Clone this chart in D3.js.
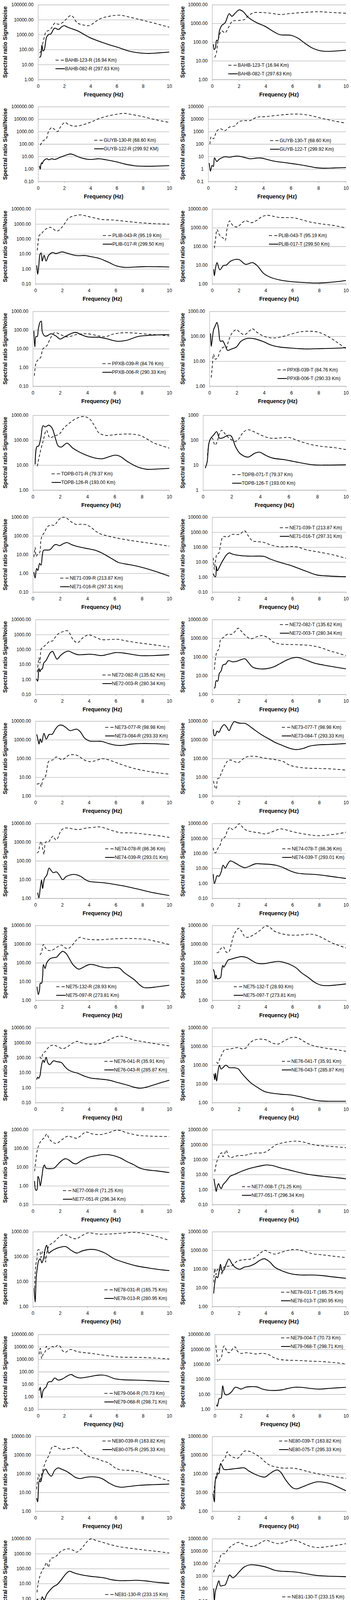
<!DOCTYPE html>
<html>
<head>
<meta charset="utf-8">
<script src="https://cdn.jsdelivr.net/npm/d3@7"></script>
<style>
  body { margin: 0; background: #fff; }
  text { font-family: "Liberation Sans", Arial, sans-serif; fill: #000; }
</style>
</head>
<body>
<svg id="chart" width="898" height="4998"></svg>
<script>
// each series: [frequency Hz, spectral ratio]
const bahbR_near = [[0.1,60],[0.2,70],[0.3,150],[0.4,350],[0.5,800],[0.6,1500],[0.75,1800],[0.9,2000],[1.1,3500],[1.3,6000],[1.5,5000],[1.7,5200],[2.0,8000],[2.2,12000],[2.5,19000],[2.65,16000],[3.0,6000],[3.4,4500],[3.9,4000],[4.3,6500],[4.7,11000],[5.3,16000],[6.2,20000],[6.8,16000],[7.4,12000],[8.0,9000],[8.8,6000],[10,3100]];
const bahbR_far = [[0.1,30],[0.2,35],[0.3,200],[0.38,80],[0.48,100],[0.65,660],[0.83,1050],[0.97,1100],[1.27,2700],[1.56,2200],[1.8,3300],[2.0,4000],[2.2,3300],[2.5,2600],[3.0,1800],[3.45,1100],[3.9,660],[4.5,400],[5.35,220],[6.2,130],[6.9,80],[7.4,65],[8.1,56],[8.5,55],[9.2,60],[10,68]];
const bahbT_near = [[0.2,15],[0.32,26],[0.43,100],[0.55,230],[0.72,400],[0.97,310],[1.23,610],[1.48,1250],[1.65,1400],[2.08,1450],[2.42,1600],[2.67,2400],[3.1,3700],[3.7,3800],[4.38,3500],[5.06,3000],[5.9,3400],[6.76,3800],[7.96,4200],[8.98,3800],[10,3500]];
const bahbT_far = [[0.1,77],[0.15,40],[0.25,50],[0.34,125],[0.43,120],[0.55,400],[0.72,770],[0.97,1070],[1.28,3300],[1.48,2400],[1.74,3600],[2.03,5300],[2.33,4200],[2.67,2200],[3.27,1150],[3.95,700],[4.63,350],[5.06,250],[5.9,230],[6.4,165],[6.93,87],[7.44,50],[7.96,36],[8.47,32],[9.15,33],[10,37]];
const guybR_near = [[0.17,80],[0.4,190],[0.62,250],[0.8,1000],[1.04,2100],[1.27,1450],[1.49,1000],[1.74,2600],[2.05,5400],[2.3,3800],[2.65,2800],[3.1,2900],[3.96,5400],[4.65,11000],[5.35,18000],[6.04,25000],[6.56,29000],[7.08,24000],[7.95,16000],[9.0,8700],[10,5400]];
const guybR_far = [[0.1,1.75],[0.17,0.97],[0.22,2.2],[0.28,3.2],[0.33,2.6],[0.4,4.1],[0.66,6.6],[0.83,5.5],[1.04,6.6],[1.27,5.8],[1.7,8.7],[2.05,12],[2.48,16],[2.74,13.5],[3.18,8.5],[3.96,5.8],[4.65,6.6],[5.17,5.5],[6.04,3.6],[6.6,2.5],[7.4,1.8],[8.2,1.65],[9.0,1.7],[10,1.85]];
const guybT_near = [[0.13,100],[0.22,380],[0.38,260],[0.63,1100],[0.88,1700],[1.21,1170],[1.54,2300],[1.96,2900],[2.2,6000],[2.54,7600],[3.03,7600],[3.53,14000],[4.2,16000],[5.19,21000],[6.02,25000],[6.68,25000],[7.35,20000],[8.18,12000],[9.0,7600],[10,4700]];
const guybT_far = [[0.08,3.0],[0.17,0.68],[0.28,1.9],[0.38,1.6],[0.46,7.8],[0.63,4],[0.8,6],[1.21,9.6],[1.54,8.8],[1.96,10.7],[2.2,10.7],[2.54,9],[3.03,6.6],[3.53,7.5],[3.86,7.5],[4.36,5.5],[4.86,4.1],[5.52,3.3],[6.19,2.6],[7.0,1.9],[7.84,1.26],[8.34,1.15],[9.17,1.22],[10,1.3]];
const plibR_near = [[0.14,17],[0.2,55],[0.3,180],[0.43,200],[0.6,330],[0.85,500],[1.1,600],[1.28,500],[1.62,330],[1.9,500],[2.2,1100],[2.47,2400],[2.9,3500],[3.4,4000],[3.9,3200],[4.42,2500],[4.93,2000],[5.95,1800],[7.0,1400],[7.82,1200],[8.84,1050],[10,960]];
const plibR_far = [[0.1,1.7],[0.17,0.43],[0.25,1.5],[0.34,9],[0.43,11.5],[0.51,3.3],[0.65,8],[0.8,3.3],[0.99,8],[1.28,12.2],[1.53,10.5],[2.0,13.5],[2.38,11],[3.06,7.7],[3.74,7.7],[4.08,6.7],[4.76,5],[5.44,2.8],[6.04,1.6],[6.63,1.26],[7.48,1.33],[8.16,1.4],[9.18,1.38],[10,1.33]];
const plibT_near = [[0.17,80],[0.26,245],[0.37,800],[0.49,510],[0.63,340],[0.8,290],[0.97,210],[1.14,1050],[1.31,2300],[1.57,1260],[1.91,1100],[2.16,1600],[2.5,2350],[2.93,1850],[3.36,2500],[3.7,3800],[4.12,4600],[4.55,4100],[5.06,3500],[6.08,3400],[6.59,2800],[7.27,2050],[8.13,1600],[8.98,1350],[10,970]];
const plibT_far = [[0.12,6],[0.17,2.7],[0.26,7],[0.37,13.5],[0.58,5.6],[0.85,9.5],[1.06,10],[1.4,16.5],[1.99,20],[2.5,11],[3.02,13.5],[3.36,9.5],[3.87,3.5],[4.38,2.2],[5.06,1.6],[5.91,1.3],[6.93,1.17],[7.6,1.1],[8.47,1.15],[9.49,1.33],[10,1.5]];
const ppxbR_near = [[0.12,0.36],[0.23,1.65],[0.37,2.5],[0.57,3.4],[0.73,9.5],[0.87,12],[1.03,14.5],[1.28,35],[1.53,68],[1.7,72],[2.03,57],[2.53,43],[3.2,57],[4.03,63],[4.87,48],[5.37,45],[5.87,60],[6.7,72],[7.53,68],[8.37,60],[9.2,55],[10,48]];
const ppxbR_far = [[0.08,90],[0.15,12.4],[0.23,45],[0.33,45],[0.4,110],[0.53,260],[0.62,300],[0.7,78],[0.87,48],[1.03,48],[1.33,63],[1.7,48],[2.0,33],[2.37,45],[3.12,75],[3.53,57],[4.03,43],[4.87,41],[5.37,35],[6.2,25],[6.87,28],[7.7,45],[8.37,51],[9.2,55],[10,57]];
const ppxbT_near = [[0.13,2.2],[0.22,8],[0.3,19],[0.43,12],[0.6,14],[0.8,27],[1.05,37],[1.22,33],[1.39,63],[1.64,130],[1.97,185],[2.22,145],[2.56,115],[2.98,175],[3.14,200],[3.48,145],[3.98,100],[4.48,87],[4.98,88],[5.65,107],[6.49,145],[7.32,160],[7.99,145],[8.66,100],[9.33,58],[10,32]];
const ppxbT_far = [[0.08,130],[0.13,39],[0.22,90],[0.3,180],[0.38,230],[0.47,300],[0.55,360],[0.67,190],[0.8,63],[0.97,65],[1.14,44],[1.34,27],[1.56,30],[1.97,37],[2.31,63],[2.81,83],[3.31,79],[3.98,60],[4.48,45],[5.15,37],[6.15,33],[6.99,31],[8.16,32],[9.16,33],[10,35]];
const topbR_near = [[0.33,9],[0.5,26],[0.75,89],[1.0,250],[1.25,125],[1.59,150],[1.92,170],[2.26,300],[2.68,480],[3.18,740],[3.76,890],[4.18,700],[4.52,380],[4.85,195],[5.35,155],[6.19,170],[7.19,175],[7.86,155],[8.36,112],[8.86,78],[9.53,58],[10,48]];
const topbR_far = [[0.17,10.7],[0.3,55],[0.42,58],[0.59,125],[0.75,380],[0.92,340],[1.17,400],[1.42,300],[1.67,112],[1.87,58],[2.09,53],[2.51,76],[2.93,48],[3.34,35],[3.85,26],[4.52,19.5],[5.1,18],[5.52,21],[6.02,25],[6.35,23],[7.02,13],[7.69,8.4],[8.36,6.8],[9.2,7],[10,7.4]];
const topbT_near = [[0.32,24],[0.45,89],[0.6,125],[0.68,115],[0.84,63],[1.0,89],[1.16,185],[1.32,250],[1.56,175],[1.88,115],[2.28,89],[2.52,115],[2.83,210],[3.15,260],[3.63,210],[4.11,155],[4.75,120],[5.54,125],[6.02,128],[6.66,95],[7.45,69],[8.25,57],[9.2,50],[10,42]];
const topbT_far = [[0.16,7.6],[0.29,13],[0.41,71],[0.53,115],[0.76,165],[0.96,220],[1.16,120],[1.4,125],[1.72,155],[1.96,150],[2.28,55],[2.6,29],[3.15,21],[3.63,30],[3.95,33],[4.43,24],[4.9,19],[5.7,16.5],[6.34,14],[7.13,11.5],[7.77,10.2],[8.57,10],[10,10.3]];
const ne71R_near = [[0.08,7.3],[0.17,24],[0.25,8],[0.37,11],[0.5,12.6],[0.59,54],[0.67,95],[0.84,150],[1.09,315],[1.34,380],[1.59,370],[1.84,650],[2.09,940],[2.26,1000],[2.51,850],[2.84,550],[3.18,410],[3.51,420],[3.93,390],[4.26,290],[4.6,180],[4.93,130],[5.35,105],[6.02,81],[6.86,62],[7.86,48],[8.86,38],[10,28]];
const ne71R_far = [[0.08,1.15],[0.17,0.56],[0.28,1.8],[0.37,1.4],[0.5,3.4],[0.6,2.7],[0.7,9.4],[0.79,17],[1.0,17.5],[1.25,18],[1.59,33],[1.76,34],[1.97,30],[2.26,39],[2.51,44],[2.84,34],[3.18,28],[3.85,22],[4.52,17.5],[5.02,12.6],[5.35,9.3],[5.85,5.7],[6.27,3.8],[6.86,3.1],[7.53,2.5],[8.19,1.9],[9.03,1.23],[10,0.7]];
const ne71T_near = [[0.09,19],[0.17,3.2],[0.26,12.6],[0.37,35],[0.49,38],[0.63,140],[0.77,430],[0.89,520],[1.14,460],[1.48,710],[1.82,690],[2.08,730],[2.42,1250],[2.67,630],[3.02,260],[3.36,235],[3.87,205],[4.38,140],[4.89,110],[5.4,105],[5.91,110],[6.42,100],[7.1,64],[7.96,47],[8.98,31],[10,18]];
const ne71T_far = [[0.09,1.7],[0.17,1.15],[0.26,1.04],[0.32,5.3],[0.39,2.6],[0.55,4.7],[0.72,9.4],[0.89,17],[1.06,29],[1.28,41],[1.57,33],[1.99,28],[2.67,25],[3.36,25],[3.87,24],[4.38,15.5],[5.06,9.6],[5.91,5.8],[6.42,3.9],[7.1,2.3],[7.79,1.4],[8.47,1.2],[9.32,1.1],[10,1.05]];
const ne72R_near = [[0.14,3],[0.2,10],[0.27,27],[0.34,12],[0.44,112],[0.6,150],[0.85,230],[1.05,350],[1.28,370],[1.53,760],[1.79,1250],[2.13,1600],[2.38,1800],[2.55,1250],[2.81,460],[3.15,280],[3.57,630],[4.0,940],[4.42,700],[4.93,460],[5.61,460],[6.12,480],[6.8,370],[7.65,280],[8.84,205],[10,145]];
const ne72R_far = [[0.08,1.1],[0.17,0.76],[0.26,5.4],[0.34,3.3],[0.43,4.8],[0.51,5],[0.63,12.6],[0.77,17],[0.94,32],[1.1,58],[1.28,75],[1.45,39],[1.62,22.5],[1.87,39],[2.21,66],[2.47,78],[2.81,58],[3.15,45],[3.57,45],[4.0,48],[4.42,45],[4.93,39],[5.44,48],[6.04,62],[6.55,58],[7.14,48],[7.82,39],[8.84,39],[10,45]];
const ne72T_near = [[0.17,21],[0.25,78],[0.37,200],[0.51,260],[0.64,850],[0.85,1100],[1.19,1700],[1.44,1600],[1.69,2200],[1.95,3450],[2.2,2300],[2.54,1300],[2.88,930],[3.31,1180],[3.73,1380],[4.15,1100],[4.58,620],[5.08,490],[5.93,460],[6.78,440],[7.46,400],[8.14,310],[8.81,210],[9.4,160],[10,115]];
const ne72T_far = [[0.14,2.2],[0.2,2.2],[0.31,5.4],[0.42,5],[0.54,13],[0.68,18],[0.81,37],[1.02,42],[1.22,63],[1.53,55],[1.86,59],[2.2,73],[2.46,80],[2.71,51],[3.05,28],[3.56,23],[4.07,23.5],[4.58,29],[5.08,44],[5.59,69],[6.1,91],[6.44,93],[6.95,71],[7.63,47],[8.31,37],[9.15,29],[10,23]];
const ne73R_near = [[0.1,4.3],[0.22,4.4],[0.32,4.8],[0.44,3],[0.56,7.8],[0.68,8.4],[0.81,16],[0.98,68],[1.15,79],[1.32,85],[1.54,120],[1.74,105],[2.0,85],[2.25,110],[2.5,150],[2.84,160],[3.18,140],[3.6,88],[4.03,68],[4.45,75],[4.96,97],[5.38,88],[5.97,63],[6.65,42],[7.5,28],[8.34,21],[9.19,17],[10,14.5]];
const ne73R_far = [[0.1,1950],[0.19,1020],[0.27,590],[0.36,1100],[0.47,720],[0.64,2230],[0.81,1080],[1.03,1950],[1.24,1950],[1.49,3700],[1.74,5800],[2.0,6000],[2.25,4700],[2.59,3100],[2.84,3400],[3.1,3700],[3.35,2700],[3.69,1200],[4.03,870],[4.45,830],[4.96,820],[5.47,630],[5.97,520],[6.48,500],[7.16,590],[7.83,630],[8.85,620],[10,560]];
const ne73T_near = [[0.1,6.3],[0.2,3.2],[0.31,2.3],[0.42,8.4],[0.54,9],[0.68,16],[0.93,39],[1.19,77],[1.44,82],[1.69,68],[1.95,60],[2.2,80],[2.46,112],[2.88,132],[3.31,128],[3.9,105],[4.41,93],[4.92,82],[5.34,68],[5.76,45],[6.27,36],[6.95,31],[7.8,29.5],[8.81,28],[10,24]];
const ne73T_far = [[0.1,3700],[0.17,1650],[0.25,1750],[0.37,2900],[0.51,2500],[0.68,4300],[0.9,6500],[1.1,4700],[1.27,3100],[1.44,5500],[1.66,9400],[1.86,8300],[2.2,7600],[2.46,7600],[2.71,6000],[3.22,3200],[3.73,1800],[4.24,1120],[4.75,700],[5.25,500],[5.76,360],[6.27,300],[6.78,340],[7.29,460],[7.97,540],[8.64,560],[9.49,600],[10,630]];
const ne74R_near = [[0.12,260],[0.22,300],[0.34,770],[0.43,1100],[0.54,460],[0.65,220],[0.77,1020],[0.97,1000],[1.14,1500],[1.31,2100],[1.53,1300],[1.7,1800],[1.87,3700],[2.13,5500],[2.47,5700],[2.81,5100],[3.23,4700],[3.83,5700],[4.34,6200],[4.85,6500],[5.36,5100],[5.87,3900],[6.38,3150],[7.07,3150],[7.74,2900],[8.42,2550],[9.1,2250],[10,1800]];
const ne74R_far = [[0.17,2.0],[0.26,1.05],[0.36,3.2],[0.46,9.5],[0.54,3.3],[0.68,11.5],[0.85,17],[1.02,41],[1.14,33],[1.33,23.5],[1.58,25.5],[1.82,16],[2.04,9.8],[2.3,14.5],[2.64,18],[2.98,18.5],[3.4,14.5],[3.74,9.8],[4.0,8],[4.68,7.1],[5.19,6.6],[6.04,5.3],[6.89,4.1],[7.74,3.0],[8.76,2.0],[10,1.4]];
const ne74T_near = [[0.09,235],[0.17,120],[0.27,110],[0.43,215],[0.6,350],[0.77,1000],[0.94,1170],[1.16,3500],[1.33,5500],[1.53,3900],[1.79,5800],[2.04,9600],[2.3,5300],[2.56,3500],[3.07,2700],[3.58,2300],[3.92,2000],[4.26,2300],[4.77,3500],[5.11,4300],[5.45,3900],[5.96,2900],[6.64,2150],[7.33,1700],[8.01,1500],[8.69,1700],[9.37,2000],[10,2600]];
const ne74T_far = [[0.09,4.1],[0.17,0.96],[0.26,1.55],[0.37,3.2],[0.51,2.9],[0.68,5.8],[0.82,16],[0.99,10.5],[1.16,19],[1.36,31],[1.79,21],[2.13,14],[2.47,11],[2.81,14],[3.24,20],[3.75,19.5],[4.26,18.5],[4.77,16],[5.28,11.5],[5.79,7],[6.3,4.9],[6.81,4.3],[7.67,3.9],[8.52,3.2],[9.37,2.5],[10,2.1]];
const ne75R_near = [[0.34,260],[0.46,360],[0.6,960],[0.77,590],[0.97,460],[1.19,460],[1.45,560],[1.7,750],[1.96,880],[2.21,630],[2.47,590],[2.72,810],[2.98,1400],[3.32,2300],[3.66,1950],[4.17,1750],[4.85,1700],[5.53,1850],[6.21,1950],[6.89,2000],[7.57,1950],[8.25,1800],[9.1,1350],[10,950]];
const ne75R_far = [[0.12,5.2],[0.22,2.0],[0.31,3.7],[0.37,8.3],[0.46,8],[0.54,18.5],[0.6,80],[0.72,50],[0.85,100],[1.1,165],[1.36,190],[1.58,200],[1.82,310],[2.04,410],[2.3,310],[2.55,160],[2.81,79],[3.23,46],[3.66,62],[4.0,80],[4.34,79],[4.85,62],[5.36,54],[5.87,56],[6.29,51],[6.63,30],[7.4,12.3],[7.74,7.1],[8.08,4.8],[8.42,4.6],[9.1,5.2],[10,6.3]];
const ne75T_near = [[0.34,350],[0.46,360],[0.63,540],[0.85,710],[0.97,460],[1.09,360],[1.26,390],[1.43,950],[1.65,3400],[1.99,7000],[2.21,4700],[2.44,2500],[2.67,2300],[3.09,3100],[3.6,5500],[4.02,9400],[4.28,8300],[4.62,5100],[5.13,3700],[5.64,3100],[6.15,3000],[6.66,3100],[7.33,3400],[7.84,2900],[8.35,1950],[9.03,1100],[9.54,810],[10,630]];
const ne75T_far = [[0.1,45],[0.17,30],[0.24,13.5],[0.3,22],[0.38,14],[0.5,14.5],[0.63,16],[0.72,40],[0.8,72],[0.87,58],[1.0,80],[1.2,140],[1.4,155],[1.65,175],[1.9,195],[2.2,215],[2.6,190],[3.0,127],[3.4,93],[3.9,90],[4.4,105],[4.96,118],[5.47,100],[5.98,72],[6.32,51],[6.66,30],[7.16,17],[7.67,9],[8.18,6.3],[8.69,6],[9.37,6.6],[10,7.4]];
const ne76R_near = [[0.34,115],[0.44,85],[0.58,210],[0.75,255],[0.92,425],[1.12,610],[1.35,700],[1.6,580],[2.03,400],[2.37,520],[2.79,950],[3.13,1230],[3.56,890],[3.99,810],[4.5,810],[5.0,950],[5.52,1580],[5.95,2350],[6.37,2750],[6.88,2130],[7.39,1480],[8.07,1160],[8.76,910],[9.44,730],[10,610]];
const ne76R_far = [[0.1,3.4],[0.17,5],[0.24,4.2],[0.34,6.2],[0.41,17],[0.49,42],[0.58,69],[0.66,48],[0.8,107],[0.92,47],[1.06,34],[1.35,61],[1.6,54],[1.94,47],[2.2,25],[2.45,15.5],[2.79,11.3],[3.13,9.3],[3.65,5.9],[4.16,4.3],[4.84,3.7],[5.52,3.1],[6.2,2.1],[6.88,1.45],[7.39,1.05],[7.82,0.91],[8.25,1.05],[8.93,1.6],[9.44,2.2],[10,3.1]];
const ne76T_near = [[0.34,148],[0.43,125],[0.6,240],[0.77,420],[0.94,680],[1.19,700],[1.53,780],[1.96,870],[2.3,720],[2.56,870],[2.81,1520],[3.15,2180],[3.66,2460],[4.09,2180],[4.51,1520],[4.94,1350],[5.45,2100],[5.96,3030],[6.39,2900],[6.81,1950],[7.33,1240],[7.84,980],[8.52,800],[9.2,680],[10,550]];
const ne76T_far = [[0.14,35],[0.2,16.5],[0.26,37],[0.34,14],[0.46,56],[0.55,100],[0.68,62],[0.85,78],[1.02,100],[1.28,74],[1.7,72],[1.96,63],[2.21,37],[2.56,19.5],[2.9,11.2],[3.41,6.3],[3.92,3.9],[4.43,3.2],[5.11,2.8],[5.96,2.5],[6.64,2.0],[7.33,1.5],[8.01,1.22],[9.03,1.17],[10,1.17]];
const ne77R_near = [[0.13,6],[0.22,22],[0.35,92],[0.55,220],[0.72,310],[0.88,400],[1.02,590],[1.22,310],[1.47,210],[1.75,185],[2.13,290],[2.55,450],[2.88,400],[3.22,350],[3.55,500],[3.88,750],[4.38,590],[4.97,550],[5.55,690],[6.22,950],[6.88,690],[7.72,500],[8.72,450],[10,430]];
const ne77R_far = [[0.13,1.8],[0.22,0.59],[0.3,0.6],[0.38,3.2],[0.47,2.2],[0.55,1.0],[0.67,3.2],[0.77,9.8],[0.85,13],[0.97,8.7],[1.22,8.2],[1.55,8.7],[1.8,13],[2.05,20],[2.38,28],[2.63,24],[2.97,16],[3.18,15],[3.55,22],[4.05,33],[4.72,42],[5.22,47],[5.88,42],[6.38,31.6],[6.88,20],[7.38,13.6],[7.8,9.1],[8.38,7.1],[9.05,6.3],[10,5.1]];
const ne77T_near = [[0.2,15.5],[0.31,51],[0.43,115],[0.6,235],[0.72,285],[0.82,155],[0.94,250],[1.06,430],[1.19,190],[1.36,135],[1.62,155],[1.96,185],[2.39,190],[2.81,235],[3.24,275],[3.75,285],[4.09,355],[4.43,590],[4.77,980],[5.28,1320],[5.79,1600],[6.3,1700],[6.81,1500],[7.33,1120],[7.84,910],[8.35,820],[9.2,720],[10,630]];
const ne77T_far = [[0.14,5.2],[0.22,1.9],[0.31,0.74],[0.39,1.6],[0.48,2.5],[0.56,1.7],[0.68,1.15],[0.82,2.1],[1.02,3.3],[1.19,5.2],[1.36,7.9],[1.7,10.4],[2.13,15.5],[2.73,24.5],[3.24,32],[3.75,40],[4.09,44],[4.51,40],[5.11,28],[5.79,20],[6.47,14],[7.16,10.4],[7.84,8.5],[8.52,7.3],[9.37,6.1],[10,5.2]];
const ne78R_near = [[0.13,5.4],[0.22,47],[0.3,76],[0.38,186],[0.5,180],[0.6,91],[0.72,165],[0.85,135],[0.93,60],[1.05,165],[1.22,285],[1.55,380],[1.88,580],[2.22,760],[2.55,700],[2.88,550],[3.22,520],[3.55,660],[4.05,890],[4.63,815],[5.13,790],[5.8,815],[6.63,870],[7.47,940],[8.13,840],[8.97,660],[10,450]];
const ne78R_far = [[0.1,5.4],[0.17,1.5],[0.25,14],[0.3,26],[0.43,67],[0.55,81],[0.67,56],[0.8,91],[0.93,225],[1.02,285],[1.17,138],[1.33,160],[1.63,200],[2.05,240],[2.43,250],[2.8,180],[3.22,138],[3.63,170],[4.13,193],[4.63,187],[5.3,137],[5.97,81],[6.8,56],[7.63,42],[8.47,35],[9.3,30],[10,27.5]];
const ne78T_near = [[0.12,19.5],[0.2,105],[0.29,50],[0.37,83],[0.46,105],[0.54,79],[0.63,125],[0.75,50],[0.88,125],[1.14,141],[1.48,150],[1.9,270],[2.41,315],[2.92,345],[3.26,440],[3.6,710],[3.94,1000],[4.28,770],[4.7,630],[5.13,770],[5.81,1050],[6.32,1110],[6.83,910],[7.5,660],[8.18,580],[9.03,490],[10,410]];
const ne78T_far = [[0.12,4.9],[0.2,17.6],[0.31,40],[0.41,34],[0.51,65],[0.63,180],[0.75,79],[0.88,89],[1.05,180],[1.26,345],[1.48,195],[1.73,123],[2.07,97],[2.41,127],[2.75,140],[3.17,187],[3.6,300],[3.91,355],[4.28,250],[4.7,123],[5.3,76],[5.98,54],[6.66,48],[7.5,48],[8.18,45],[9.03,38],[10,32]];
const ne79R_near = [[0.09,2500],[0.14,6600],[0.19,7400],[0.28,1150],[0.42,3150],[0.54,4000],[0.64,11200],[0.76,6600],[0.94,8400],[1.11,10600],[1.28,8800],[1.49,13500],[1.68,11200],[1.89,4600],[2.1,3600],[2.32,5400],[2.58,6100],[2.93,4300],[3.36,3600],[4.06,3000],[4.75,2340],[5.62,1750],[6.31,1480],[7.35,1450],[8.39,1340],[9.25,1200],[10,1070]];
const ne79R_far = [[0.09,3.1],[0.17,5.7],[0.28,0.78],[0.38,2.9],[0.5,4.6],[0.62,6],[0.76,14],[0.9,16.5],[1.02,16],[1.2,27],[1.28,32],[1.54,21.5],[1.89,27.5],[2.15,41],[2.53,60],[2.84,40],[3.19,32],[3.71,37],[4.23,47],[4.84,55],[5.27,47],[5.79,29],[6.48,23],[7.35,21.5],[8.21,20],[9.08,18],[10,16]];
const ne79T_near = [[0.09,19000],[0.17,3800],[0.26,1380],[0.38,2100],[0.52,3100],[0.61,10300],[0.73,17000],[0.9,8500],[1.07,5900],[1.25,7600],[1.42,12600],[1.56,14500],[1.73,7600],[1.99,5400],[2.34,5900],[2.69,5600],[3.12,4900],[3.64,5400],[4.07,4600],[4.51,2800],[4.94,2100],[5.55,1880],[6.41,1800],[7.28,1630],[8.15,1520],[9.01,1320],[10,1080]];
const ne79T_far = [[0.14,2.0],[0.19,1.55],[0.28,3.0],[0.35,5.2],[0.49,5.5],[0.61,37],[0.75,11],[0.87,9],[1.13,11],[1.3,15],[1.56,29],[1.77,27],[1.99,22],[2.34,29],[2.77,32],[3.21,31],[3.64,22],[4.07,18.5],[4.59,17.8],[5.11,19.5],[5.55,24],[6.07,29],[6.59,29],[7.19,25],[7.97,22],[8.84,25],[10,29]];
const ne80R_near = [[0.09,15],[0.17,47],[0.26,89],[0.34,37],[0.43,77],[0.56,160],[0.77,450],[1.02,1000],[1.28,2800],[1.58,2800],[1.87,2100],[2.3,2100],[2.72,2400],[3.06,2600],[3.4,1750],[3.74,1070],[4.17,750],[4.68,610],[5.02,480],[5.4,400],[5.8,250],[6.04,190],[6.38,160],[7.07,150],[7.76,125],[8.27,100],[9.12,65],[10,41]];
const ne80R_far = [[0.09,5],[0.17,3.1],[0.22,13],[0.29,41],[0.39,37],[0.51,81],[0.65,155],[0.77,175],[0.97,103],[1.19,74],[1.45,155],[1.7,205],[1.96,175],[2.3,137],[2.64,96],[2.98,64],[3.32,55],[3.74,64],[4.17,69],[4.68,64],[5.02,53],[5.53,31],[5.95,22],[6.38,19],[6.89,20.5],[7.76,24],[8.78,26],[10,28]];
const ne80T_near = [[0.12,9.4],[0.2,25],[0.29,76],[0.41,123],[0.54,200],[0.71,410],[0.97,700],[1.14,1470],[1.31,1000],[1.6,750],[1.9,670],[2.16,1000],[2.41,1600],[2.75,1600],[3.09,1270],[3.43,910],[3.68,670],[3.94,440],[4.28,295],[4.79,230],[5.3,200],[5.98,200],[6.49,175],[7.16,130],[8.01,96],[8.86,75],[10,56]];
const ne80T_far = [[0.08,8.7],[0.17,3.1],[0.25,47],[0.34,65],[0.41,100],[0.51,102],[0.63,350],[0.75,250],[0.88,170],[1.22,170],[1.65,185],[2.07,200],[2.41,205],[2.75,140],[3.18,96],[3.6,73],[3.94,66],[4.28,96],[4.62,140],[4.87,160],[5.13,120],[5.47,50],[5.81,24.5],[6.06,17],[6.32,15.5],[6.83,21],[7.33,29],[7.84,37],[8.35,35],[8.86,29],[9.37,20],[10,12.3]];
const ne81R_near = [[0.12,2.6],[0.22,12.6],[0.34,31],[0.51,77],[0.68,127],[0.82,255],[0.97,123],[1.14,470],[1.36,540],[1.62,770],[1.87,1350],[2.13,1800],[2.47,2100],[2.81,1700],[3.06,1250],[3.32,1700],[3.66,3800],[4.0,8500],[4.2,9800],[4.51,7700],[5.02,5700],[5.7,3800],[6.38,2800],[7.4,2100],[8.25,1700],[9.1,1400],[10,1100]];
const ne81R_far = [[0.09,0.78],[0.17,0.87],[0.26,0.15],[0.36,0.3],[0.51,1.3],[0.65,0.8],[0.85,1.9],[1.11,3.8],[1.36,6.3],[1.62,8.5],[1.96,19],[2.3,47],[2.55,67],[2.81,55],[3.15,44],[3.66,35],[4.17,30],[4.68,27],[5.19,23.5],[5.7,18],[6.21,15.8],[6.89,15.8],[7.57,16.5],[8.25,15],[9.1,12],[10,10.5]];
const ne81T_near = [[0.12,20.5],[0.24,68],[0.34,125],[0.46,100],[0.58,250],[0.71,590],[0.97,650],[1.22,1550],[1.48,2800],[1.73,4000],[1.99,5100],[2.24,4000],[2.58,2800],[3.01,2350],[3.43,3500],[3.85,6500],[4.11,7300],[4.45,5300],[4.96,4000],[5.47,5300],[5.98,7900],[6.23,7300],[6.66,4900],[7.16,2800],[7.67,2040],[8.01,1950],[8.69,2350],[9.37,3000],[10,4000]];
const ne81T_far = [[0.12,1.0],[0.17,0.098],[0.24,0.55],[0.32,1.1],[0.41,2.3],[0.51,4.2],[0.63,1.6],[0.8,1.75],[0.97,1.9],[1.14,4.8],[1.31,12.3],[1.56,7.2],[1.82,12.3],[2.07,24.5],[2.33,47],[2.58,67],[2.92,81],[3.26,76],[3.6,67],[3.94,56],[4.28,42],[4.7,29],[5.13,24.5],[5.81,23],[6.32,20.5],[7.0,15.5],[7.67,11.8],[8.52,10],[9.37,9.3],[10,8.9]];
const ne82R_near = [[0.31,16.6],[0.43,37],[0.56,93],[0.68,120],[0.8,115],[0.94,230],[1.11,510],[1.28,720],[1.53,600],[1.96,510],[2.47,450],[2.81,460],[3.15,530],[3.57,760],[4.0,1050],[4.51,1600],[5.02,2200],[5.53,3450],[6.04,4500],[6.55,5200],[7.06,5000],[7.74,3600],[8.42,2600],[9.1,1800],[10,1100]];
const ne82R_far = [[0.12,1.5],[0.19,2.2],[0.27,0.85],[0.36,2.2],[0.43,2.1],[0.54,6.2],[0.65,11.2],[0.77,15.8],[0.94,12.6],[1.11,23],[1.33,48],[1.62,59],[1.96,62],[2.3,80],[2.47,87],[2.72,68],[3.06,46],[3.49,41.5],[4.0,41.5],[4.68,43],[5.19,40],[5.7,34],[6.21,31],[6.89,29],[7.74,27],[8.42,23],[9.1,19.6],[10,15.2]];
const ne82T_near = [[0.34,35],[0.41,115],[0.51,300],[0.63,570],[0.8,1000],[0.97,1550],[1.09,1700],[1.31,1380],[1.56,1300],[1.9,1800],[2.16,2900],[2.41,4400],[2.58,4800],[2.84,3100],[3.26,1800],[3.68,1380],[4.02,1240],[4.45,1500],[4.96,2100],[5.64,2200],[6.32,2230],[6.83,2500],[7.5,3000],[8.01,2600],[8.52,1600],[9.03,860],[9.54,410],[10,220]];
const ne82T_far = [[0.12,8.8],[0.17,6.1],[0.24,1.5],[0.31,7.4],[0.41,12],[0.54,16.6],[0.75,11.5],[0.88,19.5],[1.09,35],[1.39,42],[1.73,60],[1.99,73],[2.24,56],[2.5,44],[2.84,71],[3.18,93],[3.43,83],[3.85,58],[4.28,48],[4.79,33],[5.3,29],[5.98,28.5],[6.83,28.5],[7.67,29],[8.52,28],[9.37,26],[10,25]];
const ne83R_near = [[0.12,3],[0.2,10],[0.3,40],[0.42,63],[0.55,28],[0.65,30],[0.79,33],[0.95,33],[1.19,42],[1.44,60],[1.6,74],[1.85,47],[2.18,33],[2.59,23],[2.91,17],[3.24,15.8],[3.57,19.5],[4.06,26],[4.55,33],[5.04,40],[5.7,36],[6.51,34],[7.17,32.5],[7.82,28],[8.31,20.5],[8.81,14.3],[9.3,8.9],[9.79,6.2],[10,5.1]];
const ne83R_far = [[0.1,0.43],[0.16,0.83],[0.21,1.18],[0.26,1.37],[0.33,1.25],[0.41,2.0],[0.49,6],[0.62,11],[0.79,20],[0.95,20],[1.31,32],[1.52,26],[1.93,24.5],[2.42,26],[2.91,47],[3.24,51],[3.73,42],[4.39,40.5],[4.88,37],[5.53,33],[6.02,28],[6.51,19.5],[7.0,11.3],[7.5,6.2],[7.99,3.8],[8.56,3.0],[9.13,2.35],[9.46,1.9],[10,1.7]];
const ne83T_near = [[0.17,1.95],[0.25,4.5],[0.38,10.5],[0.5,15],[0.66,29],[0.83,35],[1.0,27.5],[1.25,18],[1.41,42],[1.66,54],[1.91,37],[2.16,34],[2.57,27.5],[2.91,21.8],[3.24,15],[3.57,11.7],[3.9,10],[4.15,12.6],[4.4,24.5],[4.65,42],[4.9,64],[5.2,68],[5.56,54],[6.06,37],[6.73,35],[7.56,36],[8.39,34],[9.22,30],[10,27.5]];
const ne83T_far = [[0.08,8.5],[0.22,13.5],[0.33,6.5],[0.42,1.1],[0.55,10.5],[0.66,15],[0.83,15],[0.91,24.5],[1.0,44],[1.13,30],[1.3,50],[1.45,80],[1.61,105],[1.8,50],[2.08,33],[2.41,48],[2.74,82],[3.16,132],[3.41,98],[3.82,57],[4.4,35],[5.07,25],[5.56,27.5],[6.06,32],[6.56,26],[6.73,23],[7.39,11.7],[8.06,6],[8.72,3.3],[9.39,1.82],[10,1.04]];
const ne84R_near = [[0.1,5.6],[0.17,9.2],[0.27,13.8],[0.38,20.5],[0.47,63],[0.55,140],[0.72,115],[0.97,100],[1.17,225],[1.38,460],[1.6,570],[1.8,430],[2.1,310],[2.47,365],[2.8,290],[3.22,192],[3.72,150],[4.3,135],[5.13,125],[5.97,140],[6.8,140],[7.63,130],[8.13,110],[8.8,87],[9.47,63],[10,47]];
const ne84R_far = [[0.1,1.7],[0.18,0.72],[0.27,1.7],[0.33,1.1],[0.43,8],[0.55,9.4],[0.72,22],[0.88,24],[1.05,40],[1.27,100],[1.47,55],[1.63,39],[1.83,51],[2.0,57],[2.22,40],[2.47,28],[2.97,26],[3.47,28],[3.97,31.5],[4.47,26],[5.05,18],[5.47,18.8],[5.97,20.5],[6.47,17.6],[6.97,11],[7.47,6.8],[7.97,4.7],[8.63,3.4],[9.3,2.6],[10,1.6]];
const ne84T_near = [[0.12,5.6],[0.22,3.3],[0.3,8],[0.38,20.5],[0.47,63],[0.58,163],[0.71,155],[0.83,87],[0.96,163],[1.08,265],[1.28,430],[1.45,400],[1.66,265],[1.99,178],[2.33,245],[2.66,290],[3.07,245],[3.57,210],[4.07,178],[4.57,145],[5.15,130],[5.65,135],[6.06,145],[6.73,140],[7.39,130],[8.06,103],[8.72,75],[9.39,53],[10,36]];
const ne84T_far = [[0.08,3.0],[0.17,1.1],[0.25,0.4],[0.33,1.35],[0.45,6.8],[0.55,9.4],[0.66,6.8],[0.83,15],[1.0,20.5],[1.16,20.5],[1.33,33],[1.58,34],[1.83,55],[2.04,85],[2.24,55],[2.49,40],[2.91,41],[3.41,39],[4.07,28],[4.57,21.5],[5.15,17],[5.56,19],[6.06,21.5],[6.56,17.5],[7.06,10],[7.56,5.6],[8.06,3.8],[8.72,2.6],[9.39,1.8],[10,1.05]];

// legend texts (dashed = near station, solid = far station)
const nearLabels = ["BAHB-123-R (16.94 Km)","BAHB-123-T (16.94 Km)","GUYB-130-R (68.60 Km)","GUYB-130-T (68.60 Km)","PLIB-043-R (95.19 Km)","PLIB-043-T (95.19 Km)","PPXB-039-R (84.76 Km)","PPXB-039-T (84.76 Km)","TOPB-071-R (79.37 Km)","TOPB-071-T (79.37 Km)","NE71-039-R (213.87 Km)","NE71-039-T (213.87 Km)","NE72-082-R (135.62 Km)","NE72-082-T (135.62 Km)","NE73-077-R (98.98 Km)","NE73-077-T (98.98 Km)","NE74-078-R (86.36 Km)","NE74-078-T (86.36 Km)","NE75-132-R (28.93 Km)","NE75-132-T (28.93 Km)","NE76-041-R (35.91 Km)","NE76-041-T (35.91 Km)","NE77-008-R (71.25 Km)","NE77-008-T (71.25 Km)","NE78-031-R (165.75 Km)","NE78-031-T (165.75 Km)","NE79-004-R (70.73 Km)","NE79-004-T (70.73 Km)","NE80-039-R (163.82 Km)","NE80-039-T (163.82 Km)","NE81-130-R (233.15 Km)","NE81-130-T (233.15 Km)","NE82-068-R (155.13 Km)","NE82-068-T (155.13 Km)","NE83-047-R (136.37 Km)","NE83-047-T (136.37 Km)","NE84-128-R (209.28 Km)","NE84-128-T (209.28 Km)"];
const farLabels = ["BAHB-082-R (297.63 Km)","BAHB-082-T (297.63 Km)","GUYB-122-R (299.92 KM)","GUYB-122-T (299.92 Km)","PLIB-017-R (299.50 Km)","PLIB-017-T (299.50 Km)","PPXB-006-R (290.33 Km)","PPXB-006-T (290.33 Km)","TOPB-126-R (193.00 Km)","TOPB-126-T (193.00 Km)","NE71-016-R (297.31 Km)","NE71-016-T (297.31 Km)","NE72-003-R (280.34 Km)","NE72-003-T (280.34 Km)","NE73-084-R (293.33 Km)","NE73-084-T (293.33 Km)","NE74-039-R (293.01 Km)","NE74-039-T (293.01 Km)","NE75-097-R (273.81 Km)","NE75-097-T (273.81 Km)","NE76-043-R (285.87 Km)","NE76-043-T (285.87 Km)","NE77-051-R (296.34 Km)","NE77-051-T (296.34 Km)","NE78-013-R (280.95 Km)","NE78-013-T (280.95 Km)","NE79-068-R (298.71 Km)","NE79-068-T (298.71 Km)","NE80-075-R (295.33 Km)","NE80-075-T (295.33 Km)","NE81-116-R (299.40 Km)","NE81-116-T (299.40 Km)","NE82-014-R (295.24 Km)","NE82-014-T (295.24 Km)","NE83-005-R (282.08 Km)","NE83-005-T (282.08 Km)","NE84-130-R (293.93 Km)","NE84-130-T (293.93 Km)"];

// log axis range of each panel
const yTop = [1e5,1e4,1e5,1e5,1e4,1e4,1e3,1e3,1e3,1e3,1e3,1e4,1e4,1e4,1e4,1e4,1e4,1e4,1e4,1e4,1e4,1e4,1e3,1e4,1e3,1e4,1e5,1e5,1e4,1e4,1e4,1e4,1e4,1e4,100,1e3,1e3,1e3];
const yBottom = [1,1,0.1,0.1,0.1,1,0.1,1,1,1,0.1,0.1,0.1,1,1,1,1,0.1,1,1,0.1,1,0.1,0.1,1,1,0.1,1,1,1,0.1,0.01,0.1,1,0.1,1,0.1,0.1];
const plainTickPanels = [3, 9];   // these two show "100000", "1000" without decimals
const xTicks = [0, 2, 4, 6, 8, 10];

const panels = [
  [bahbR_near,bahbR_far],[bahbT_near,bahbT_far],[guybR_near,guybR_far],[guybT_near,guybT_far],
  [plibR_near,plibR_far],[plibT_near,plibT_far],[ppxbR_near,ppxbR_far],[ppxbT_near,ppxbT_far],
  [topbR_near,topbR_far],[topbT_near,topbT_far],[ne71R_near,ne71R_far],[ne71T_near,ne71T_far],
  [ne72R_near,ne72R_far],[ne72T_near,ne72T_far],[ne73R_near,ne73R_far],[ne73T_near,ne73T_far],
  [ne74R_near,ne74R_far],[ne74T_near,ne74T_far],[ne75R_near,ne75R_far],[ne75T_near,ne75T_far],
  [ne76R_near,ne76R_far],[ne76T_near,ne76T_far],[ne77R_near,ne77R_far],[ne77T_near,ne77T_far],
  [ne78R_near,ne78R_far],[ne78T_near,ne78T_far],[ne79R_near,ne79R_far],[ne79T_near,ne79T_far],
  [ne80R_near,ne80R_far],[ne80T_near,ne80T_far],[ne81R_near,ne81R_far],[ne81T_near,ne81T_far],
  [ne82R_near,ne82R_far],[ne82T_near,ne82T_far],[ne83R_near,ne83R_far],[ne83T_near,ne83T_far],
  [ne84R_near,ne84R_far],[ne84T_near,ne84T_far]
];

// ---- layout ----
const rowTops = [12,273,535,797,1063,1324,1586,1846,2108,2369,2631,2892,3153,3416,3677,3939,4201,4462,4724];
const plotH = 191.5;
const colLabelX = [29, 481];
const colRight = [433, 885];
const colTitleX = [18, 472];
const tickFont = 12;
const legendAt = [[142,154],[584,167],[241,359],[691,360],[263,603],[688,603],[262,931],[710,947],
  [132,1213],[594,1215],[154,1480],[716,1351],[262,1728],[716,1599],[269,1862],[721,1862],
  [269,2173],[722,2173],[144,2526],[598,2526],[267,2717],[721,2717],[161,3048],[619,3038],
  [267,3302],[719,3308],[267,3567],[719,3425],[262,3689],[714,3689],[269,4082],[722,4088],
  [262,4342],[714,4357],[262,4613],[716,4479],[178,4880],[631,4880]];

const svg = d3.select("#chart");
const gridColor = "#b5b5b5";

function measure(str, size){
  const t = svg.append("text").style("font-size", size + "px").text(str);
  const w = t.node().getComputedTextLength();
  t.remove();
  return w;
}

panels.forEach(function(p, i){
  const col = i % 2, row = Math.floor(i / 2);
  const top = rowTops[row], bottom = top + plotH;
  const lo = Math.round(Math.log10(yBottom[i])), hi = Math.round(Math.log10(yTop[i]));
  const decades = d3.range(lo, hi + 1).map(e => Math.pow(10, e));
  const fmt = plainTickPanels.includes(i) ? (v => String(v)) : d3.format(".2f");

  const maxW = d3.max(decades, v => measure(fmt(v), tickFont));
  const left = colLabelX[col] + maxW + 11.5, right = colRight[col];

  const x = d3.scaleLinear().domain([0, 10]).range([left, right]);
  const y = d3.scaleLog().domain([yBottom[i], yTop[i]]).range([bottom, top]);

  const g = svg.append("g");

  //gridlines
  g.append("g").attr("transform", `translate(${left},0)`)
    .call(d3.axisLeft(y).tickValues(decades).tickSize(-(right - left)).tickFormat(""))
    .call(a => a.select(".domain").remove())
    .selectAll("line").attr("stroke", gridColor).attr("stroke-width", 1.3);

  //y axis
  const ya = g.append("g").attr("transform", `translate(${left},0)`)
    .call(d3.axisLeft(y).tickValues(decades).tickSize(0).tickSizeOuter(0).tickPadding(11.5).tickFormat(fmt))
    .attr("font-size", null).attr("font-family", null);
  ya.select(".domain").attr("stroke", gridColor).attr("stroke-width", 1.2);
  ya.selectAll("text").style("font-size", tickFont + "px");

  //x axis
  const xa = g.append("g").attr("transform", `translate(0,${bottom})`)
    .call(d3.axisBottom(x).tickValues(xTicks).tickSize(4).tickSizeOuter(0).tickPadding(9).tickFormat(d3.format("d")))
    .attr("font-size", null).attr("font-family", null);
  xa.select(".domain").attr("stroke", gridColor).attr("stroke-width", 1.3);
  xa.selectAll("line").attr("stroke", gridColor).attr("stroke-width", 1.2);
  xa.selectAll("text").style("font-size", tickFont + "px");

  //axis titles
  g.append("text").attr("x", (left + right) / 2).attr("y", bottom + 43)
    .attr("text-anchor", "middle").style("font-size", "14px").style("font-weight", "bold")
    .text("Frequency (Hz)");
  g.append("text")
    .attr("transform", `translate(${colTitleX[col]},${(top + bottom) / 2}) rotate(-90)`)
    .attr("text-anchor", "middle")
    .style("font-weight", "bold").style("font-size", "14.5px")
    .text("Spectral ratio Signal/Noise");

  //curves
  const line = d3.line().x(d => x(d[0])).y(d => y(d[1])).curve(d3.curveCatmullRom.alpha(0.5));
  g.append("path").datum(p[0]).attr("d", line)
    .attr("fill", "none").attr("stroke", "#000").attr("stroke-width", 1.6).attr("stroke-dasharray", "7,5");
  g.append("path").datum(p[1]).attr("d", line)
    .attr("fill", "none").attr("stroke", "#000").attr("stroke-width", 2.1);

  //legend
  const [lx, ly] = legendAt[i];
  g.append("line").attr("x1", lx).attr("x2", lx + 21.5).attr("y1", ly).attr("y2", ly)
    .attr("stroke", "#000").attr("stroke-width", 1.6).attr("stroke-dasharray", "8,5.5");
  g.append("text").attr("x", lx + 24.5).attr("y", ly + 4).style("font-size", "12px").text(nearLabels[i]);
  g.append("line").attr("x1", lx).attr("x2", lx + 24).attr("y1", ly + 22).attr("y2", ly + 22)
    .attr("stroke", "#000").attr("stroke-width", 2.1);
  g.append("text").attr("x", lx + 24.5).attr("y", ly + 26).style("font-size", "12px").text(farLabels[i]);
});
</script>
</body>
</html>
